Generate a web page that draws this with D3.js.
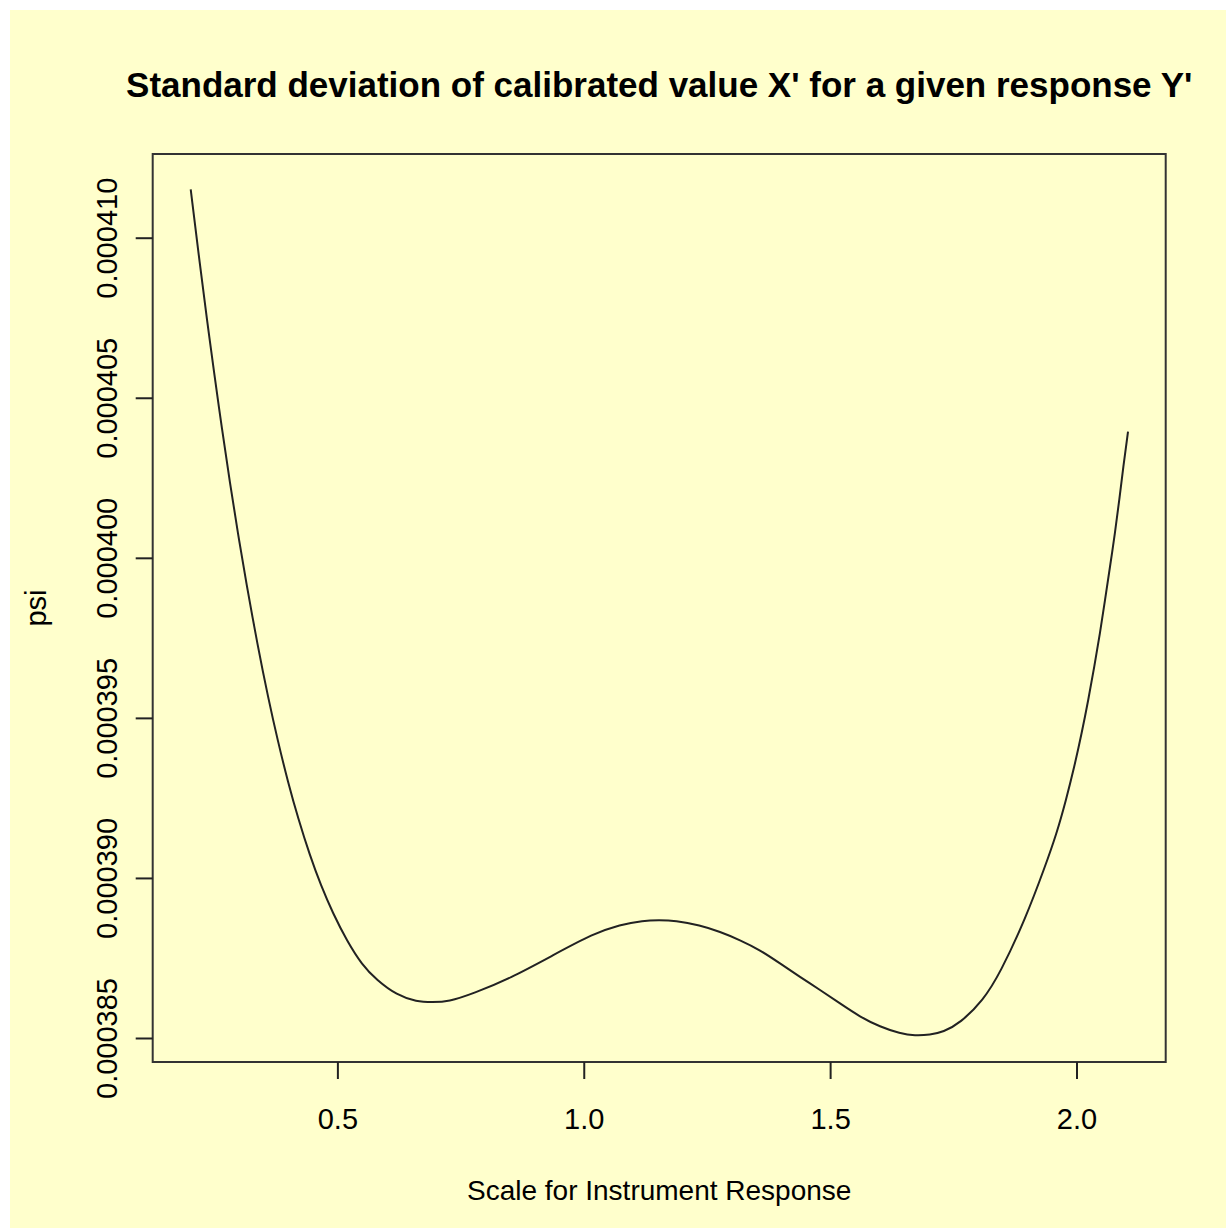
<!DOCTYPE html>
<html>
<head>
<meta charset="utf-8">
<script src="https://cdn.jsdelivr.net/npm/d3@7"></script>
<style>
  html, body { margin: 0; padding: 0; background: #ffffff; }
  svg { display: block; }
  text { font-family: "Liberation Sans", Arial, sans-serif; fill: #000; }
</style>
</head>
<body>
<svg id="chart" width="1226" height="1228"></svg>
<script>
// ---- data ----
const xValues = [
  0.2023, 0.2212, 0.2354, 0.2496, 0.2658, 0.2820, 0.2983, 0.3145, 0.3385, 0.3592,
  0.3795, 0.3998, 0.4207, 0.4444, 0.4667, 0.4905, 0.5195, 0.5497, 0.5798, 0.6204,
  0.6609, 0.6930, 0.7251, 0.7758, 0.8503, 0.9382, 1.0194, 1.0736, 1.1208, 1.1527,
  1.1852, 1.2359, 1.2765, 1.3171, 1.3577, 1.3983, 1.4389, 1.4795, 1.5201, 1.5607,
  1.6013, 1.6419, 1.6723, 1.7028, 1.7297, 1.7636, 1.8109, 1.8448, 1.8969, 1.9361,
  1.9598, 1.9787, 1.9956, 2.0106, 2.0240, 2.0362, 2.0477, 2.0579, 2.0680, 2.0782,
  2.0869, 2.0950, 2.1046
];
const psiValues = [
  0.00041151, 0.00040913, 0.00040743, 0.00040580, 0.00040402, 0.00040233, 0.00040075, 0.00039926, 0.00039723, 0.00039565,
  0.00039425, 0.00039299, 0.00039184, 0.00039069, 0.00038976, 0.00038891, 0.00038803, 0.00038729, 0.00038681, 0.00038634,
  0.00038613, 0.00038612, 0.00038613, 0.00038639, 0.00038686, 0.00038759, 0.00038826, 0.00038854, 0.00038867, 0.00038868,
  0.00038867, 0.00038852, 0.00038832, 0.00038806, 0.00038775, 0.00038733, 0.00038691, 0.00038650, 0.00038608, 0.00038566,
  0.00038535, 0.00038514, 0.00038507, 0.00038510, 0.00038519, 0.00038546, 0.00038618, 0.00038702, 0.00038874, 0.00039035,
  0.00039139, 0.00039243, 0.00039347, 0.00039452, 0.00039556, 0.00039660, 0.00039764, 0.00039868, 0.00039972, 0.00040077,
  0.00040181, 0.00040285, 0.00040394
];
const xTicks = [0.5, 1.0, 1.5, 2.0];
const xTickLabels = ["0.5", "1.0", "1.5", "2.0"];
const yTicks = [0.000385, 0.000390, 0.000395, 0.000400, 0.000405, 0.000410];
const yTickLabels = ["0.000385", "0.000390", "0.000395", "0.000400", "0.000405", "0.000410"];
const titleText = "Standard deviation of calibrated value X' for a given response Y'";
const xLabelText = "Scale for Instrument Response";
const yLabelText = "psi";

// ---- layout ----
const W = 1226, H = 1228;
const plot = { left: 152.7, top: 154, right: 1165.7, bottom: 1062 };
const xDomain = [0.12516, 2.18108];
const yDomain = [0.00038425, 0.000412615];
const FS = 29;

const svg = d3.select("#chart");
svg.append("rect").attr("x", 0).attr("y", 0).attr("width", W).attr("height", H).attr("fill", "#ffffff");
svg.append("rect").attr("x", 10).attr("y", 10).attr("width", W - 10).attr("height", H - 10).attr("fill", "#ffffcc");

const x = d3.scaleLinear().domain(xDomain).range([plot.left, plot.right]);
const y = d3.scaleLinear().domain(yDomain).range([plot.bottom, plot.top]);

// curve
const pts = xValues.map((v, i) => [v, psiValues[i]]);
const line = d3.line().x(d => x(d[0])).y(d => y(d[1])).curve(d3.curveBasis);
svg.append("path").datum(pts)
  .attr("d", line)
  .attr("fill", "none")
  .attr("stroke", "#222")
  .attr("stroke-width", 2);

// box
svg.append("rect")
  .attr("x", plot.left).attr("y", plot.top)
  .attr("width", plot.right - plot.left).attr("height", plot.bottom - plot.top)
  .attr("fill", "none").attr("stroke", "#333").attr("stroke-width", 2);

// x axis
const xAxis = d3.axisBottom(x).tickValues(xTicks)
  .tickFormat((d, i) => xTickLabels[i]).tickSize(17).tickSizeOuter(0);
const gx = svg.append("g").attr("transform", `translate(0,${plot.bottom})`).call(xAxis);
gx.select(".domain").remove();
gx.selectAll(".tick line").attr("stroke", "#222").attr("stroke-width", 2);
gx.selectAll(".tick text")
  .attr("y", 67).attr("dy", null)
  .attr("font-size", FS)
  .attr("font-family", "Liberation Sans, Arial, sans-serif")
  .attr("fill", "#000");

// y axis
const yAxis = d3.axisLeft(y).tickValues(yTicks)
  .tickFormat((d, i) => yTickLabels[i]).tickSize(17).tickSizeOuter(0);
const gy = svg.append("g").attr("transform", `translate(${plot.left},0)`).call(yAxis);
gy.select(".domain").remove();
gy.selectAll(".tick line").attr("stroke", "#222").attr("stroke-width", 2);
gy.selectAll(".tick text")
  .attr("x", 0).attr("y", -36).attr("dy", null)
  .attr("transform", "rotate(-90)")
  .attr("text-anchor", "middle")
  .attr("font-size", FS)
  .attr("font-family", "Liberation Sans, Arial, sans-serif")
  .attr("fill", "#000");

// title
const cx = (plot.left + plot.right) / 2;
svg.append("text")
  .attr("x", cx).attr("y", 97)
  .attr("text-anchor", "middle")
  .attr("font-size", 35).attr("font-weight", "bold")
  .text(titleText);

// x label
svg.append("text")
  .attr("x", cx).attr("y", 1200)
  .attr("text-anchor", "middle")
  .attr("font-size", 28)
  .text(xLabelText);

// y label
svg.append("text")
  .attr("transform", `translate(46,${(plot.top + plot.bottom) / 2}) rotate(-90)`)
  .attr("text-anchor", "middle")
  .attr("font-size", FS)
  .text(yLabelText);
</script>
</body>
</html>
